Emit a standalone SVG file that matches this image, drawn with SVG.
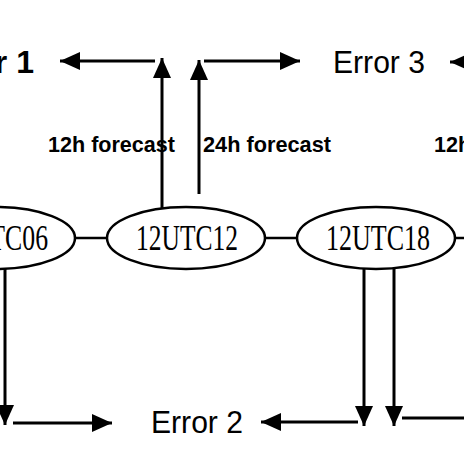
<svg xmlns="http://www.w3.org/2000/svg" width="464" height="464" viewBox="0 0 464 464">
<style>
.ell{fill:#fff;stroke:#000;stroke-width:2.5}
.nt{font-family:"Liberation Serif","DejaVu Serif",serif;font-size:35px;fill:#000}
.ln{stroke:#000;stroke-width:3;fill:none}
.thin{stroke:#000;stroke-width:2.5;fill:none}
.err{font-family:"Liberation Sans",Arial,sans-serif;font-size:32px;fill:#000}
.lab{font-family:"Liberation Sans",Arial,sans-serif;font-size:22px;font-weight:bold;fill:#000}
</style>
<defs>
<marker id="ah" viewBox="0 0 20 18" refX="20" refY="9" markerWidth="20" markerHeight="18" markerUnits="userSpaceOnUse" orient="auto">
<path d="M0,0 L20,9 L0,18 Z" fill="#000"/>
</marker>
</defs>
<rect width="464" height="464" fill="#fff"/>
<g id="connectors">
<line class="thin" x1="74" y1="238" x2="108" y2="238"/>
<line class="thin" x1="264" y1="238" x2="298" y2="238"/>
<line class="thin" x1="454" y1="238" x2="464" y2="238"/>
<line class="ln" x1="162" y1="208" x2="162" y2="58" marker-end="url(#ah)"/>
<line class="ln" x1="199" y1="194" x2="199" y2="60" marker-end="url(#ah)"/>
<line class="ln" x1="155" y1="61" x2="60" y2="61" marker-end="url(#ah)"/>
<line class="ln" x1="204" y1="61" x2="300" y2="61" marker-end="url(#ah)"/>
<line class="ln" x1="470" y1="62" x2="450" y2="62" marker-end="url(#ah)"/>
<line class="ln" x1="5" y1="268" x2="5" y2="425" marker-end="url(#ah)"/>
<line class="ln" x1="13" y1="423" x2="112" y2="423" marker-end="url(#ah)"/>
<line class="ln" x1="358" y1="422" x2="261" y2="422" marker-end="url(#ah)"/>
<line class="ln" x1="364" y1="269" x2="364" y2="426" marker-end="url(#ah)"/>
<line class="ln" x1="394" y1="269" x2="394" y2="426" marker-end="url(#ah)"/>
<line class="ln" x1="402" y1="418" x2="464" y2="418"/>
</g>
<g id="n06">
<ellipse class="ell" cx="-4" cy="238" rx="79" ry="31"/>
<text class="nt" x="-55" y="250" textLength="103" lengthAdjust="spacingAndGlyphs">12UTC06</text>
</g>
<g id="n12">
<ellipse class="ell" cx="186" cy="238" rx="79" ry="31"/>
<text class="nt" x="136" y="250" textLength="102" lengthAdjust="spacingAndGlyphs">12UTC12</text>
</g>
<g id="n18">
<ellipse class="ell" cx="376" cy="238" rx="79" ry="31"/>
<text class="nt" x="326" y="250" textLength="104" lengthAdjust="spacingAndGlyphs">12UTC18</text>
</g>
<g id="e1"><text class="err" x="34" y="73" text-anchor="end" font-weight="bold">Error 1</text></g>
<g id="e3"><text class="err" x="333" y="73" textLength="92" lengthAdjust="spacingAndGlyphs">Error 3</text></g>
<g id="e2"><text class="err" x="151" y="433" textLength="92" lengthAdjust="spacingAndGlyphs">Error 2</text></g>
<g id="labels">
<text class="lab" x="48" y="152" textLength="127" lengthAdjust="spacingAndGlyphs">12h forecast</text>
<text class="lab" x="203" y="152" textLength="128" lengthAdjust="spacingAndGlyphs">24h forecast</text>
<text class="lab" x="434" y="152" textLength="127" lengthAdjust="spacingAndGlyphs">12h forecast</text>
</g>
</svg>
